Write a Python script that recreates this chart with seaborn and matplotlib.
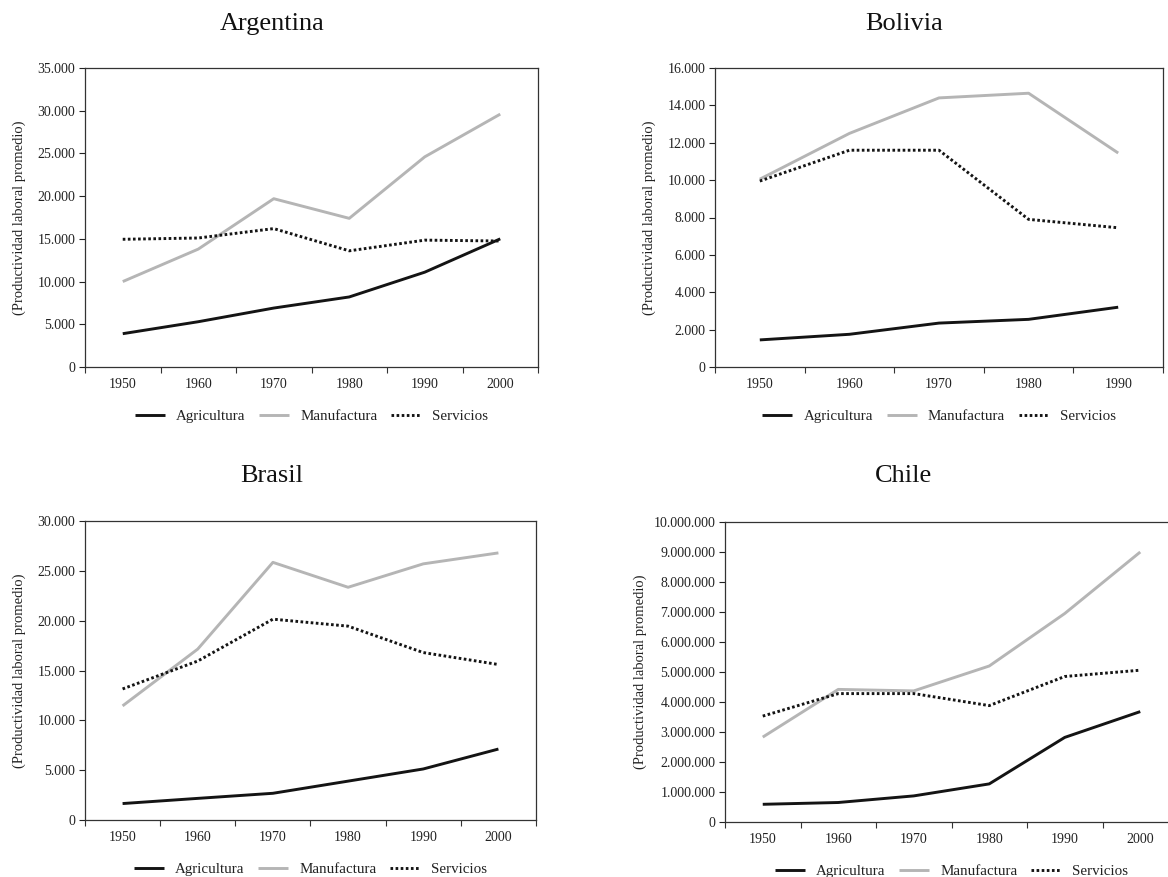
import matplotlib
matplotlib.use("Agg")
import matplotlib.pyplot as plt
from matplotlib.ticker import FixedLocator, FuncFormatter, MultipleLocator
import seaborn as sns
import numpy as np
import pandas as pd

# Productividad laboral promedio por sector
sectores = ["Agricultura", "Manufactura", "Servicios"]

anios_arg = [1950, 1960, 1970, 1980, 1990, 2000]
arg_agricultura = [3900, 5300, 6900, 8200, 11100, 15000]
arg_manufactura = [10000, 13800, 19700, 17400, 24600, 29600]
arg_servicios = [14950, 15100, 16200, 13600, 14850, 14750]

anios_bol = [1950, 1960, 1970, 1980, 1990]
bol_agricultura = [1450, 1750, 2350, 2550, 3200]
bol_manufactura = [10050, 12500, 14400, 14650, 11450]
bol_servicios = [9950, 11600, 11600, 7900, 7450]

anios_bra = [1950, 1960, 1970, 1980, 1990, 2000]
bra_agricultura = [1650, 2170, 2680, 3900, 5120, 7120]
bra_manufactura = [11450, 17150, 25850, 23350, 25700, 26800]
bra_servicios = [13150, 15950, 20150, 19450, 16800, 15600]

anios_chi = [1950, 1960, 1970, 1980, 1990, 2000]
chi_agricultura = [590000, 650000, 870000, 1270000, 2820000, 3680000]
chi_manufactura = [2830000, 4420000, 4370000, 5200000, 6950000, 9000000]
chi_servicios = [3530000, 4280000, 4280000, 3880000, 4850000, 5060000]

paises = [
    ("Argentina", anios_arg, [arg_agricultura, arg_manufactura, arg_servicios], 35000, 5000),
    ("Bolivia", anios_bol, [bol_agricultura, bol_manufactura, bol_servicios], 16000, 2000),
    ("Brasil", anios_bra, [bra_agricultura, bra_manufactura, bra_servicios], 30000, 5000),
    ("Chile", anios_chi, [chi_agricultura, chi_manufactura, chi_servicios], 10000000, 1000000),
]

sns.set_theme(style="white")
plt.rcParams["font.family"] = ["Liberation Serif", "DejaVu Serif"]

W, H = 1168, 877
fig = plt.figure(figsize=(W / 100, H / 100), dpi=100)

# axes boxes in pixels: left, right, top, bottom
cajas = [
    (85, 538, 68, 367),
    (715, 1163, 68, 367),
    (85, 536, 521, 820),
    (725, 1178, 522, 822),
]
titulos_xy = [(272, 24), (904, 24), (272, 476), (904, 476)]
ylabel_x = [19, 649, 19, 640]

estilos = {
    "Agricultura": dict(color="#141414", linestyle="-"),
    "Manufactura": dict(color="#b5b5b5", linestyle="-"),
    "Servicios": dict(color="#141414", linestyle=(0, (0.9, 0.85))),
}

fmt = FuncFormatter(lambda v, p: f"{int(round(v)):,}".replace(",", "."))

for (nombre, anios, series, ymax, paso), (l, r, t, b), (tx, ty), ylx in zip(
        paises, cajas, titulos_xy, ylabel_x):
    ax = fig.add_axes([l / W, 1 - b / H, (r - l) / W, (b - t) / H])
    pos = np.arange(len(anios))
    df = pd.DataFrame({
        "pos": np.tile(pos, len(sectores)),
        "valor": np.concatenate(series),
        "sector": np.repeat(sectores, len(anios)),
    })
    for s in sectores:
        sub = df[df["sector"] == s]
        sns.lineplot(data=sub, x="pos", y="valor", ax=ax, label=s,
                     linewidth=2.1, solid_joinstyle="round",
                     solid_capstyle="butt", **estilos[s])
    ax.set_xlim(-0.5, len(anios) - 0.5)
    ax.set_ylim(0, ymax)
    ax.yaxis.set_major_locator(MultipleLocator(paso))
    ax.yaxis.set_major_formatter(fmt)
    ax.xaxis.set_major_locator(FixedLocator(pos))
    ax.set_xticklabels([str(a) for a in anios])
    ax.xaxis.set_minor_locator(FixedLocator(np.arange(len(anios) + 1) - 0.5))
    ax.tick_params(axis="x", which="major", length=0, pad=8, labelsize=10, colors="#222222")
    ax.tick_params(axis="x", which="minor", bottom=True, length=4, width=0.8, direction="out", color="#333333")
    ax.tick_params(axis="y", which="major", left=True, length=4, width=0.8, direction="out",
                   pad=3, labelsize=10, colors="#222222")
    for sp in ax.spines.values():
        sp.set_visible(True)
        sp.set_color("#333333")
        sp.set_linewidth(0.9)
    ax.set_xlabel("")
    ax.set_ylabel("")
    ax.grid(False)
    fig.text(ylx / W, 1 - ((t + b) / 2) / H, "(Productividad laboral promedio)",
             rotation=90, ha="center", va="center", fontsize=10.5, color="#222222")
    fig.text(tx / W, 1 - ty / H, nombre, ha="center", va="center", fontsize=19, color="#111111")
    leg = ax.legend(loc="center", bbox_to_anchor=(0.5, -0.165), ncol=3, frameon=False,
                    fontsize=10.8, handlelength=2.0, handletextpad=0.75, columnspacing=0.9)
    for txt in leg.get_texts():
        txt.set_color("#222222")

fig.savefig("out.png", dpi=100)
